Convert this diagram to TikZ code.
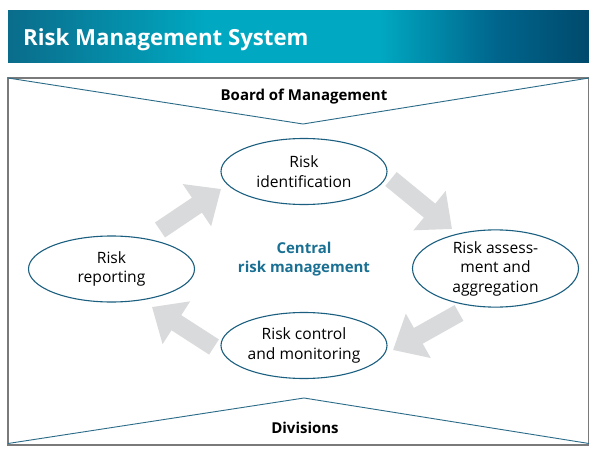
\documentclass[tikz,border=0pt]{standalone}
\usepackage{fontspec}
\setmainfont{Open Sans}
\usetikzlibrary{shapes.geometric,arrows.meta}
\definecolor{bandA}{HTML}{0A6C8B}
\definecolor{bandB}{HTML}{00A8C1}
\definecolor{bandC}{HTML}{00658C}
\definecolor{bandD}{HTML}{004A6C}
\definecolor{ringcol}{HTML}{1B5F80}
\definecolor{vline}{HTML}{2A6B88}
\definecolor{centcol}{HTML}{1A7092}
\definecolor{arrowgray}{HTML}{D9DADB}
\definecolor{framegray}{HTML}{7A7A7A}
\pgfdeclarehorizontalshading{bannershade}{100bp}{color(0bp)=(bandA); color(25bp)=(bandA); color(42bp)=(bandB); color(57bp)=(bandB); color(67bp)=(bandC); color(75bp)=(bandD); color(100bp)=(bandD)}
\tikzset{
  stage/.style={ellipse, draw=ringcol, line width=1.1pt, minimum width=166pt, minimum height=66pt, inner sep=0pt, align=center, font=\fontsize{15.6}{19.5}\selectfont, text=black},
  blockarrow/.style={draw=arrowgray, line width=18pt, line cap=butt, -{Triangle[length=29pt,width=49pt]}},
  vedge/.style={draw=vline, line width=0.9pt},
  lbl/.style={font=\bfseries\fontsize{15}{17}\selectfont, text=black, inner sep=0pt}
}
\begin{document}
\begin{tikzpicture}[x=1pt,y=-1pt]
\useasboundingbox (0,0) rectangle (589,452);
\fill[white] (0,0) rectangle (589,452);
% banner
\shade[shading=bannershade] (8,11) rectangle (589,62.5);
\node[anchor=base west, text=white, font=\bfseries\fontsize{22.2}{25}\selectfont, inner sep=0pt] (title) at (23,45.5) {Risk Management System};
% frame
\draw[framegray, line width=1.3pt] (8,78) rectangle (588.5,445);
\coordinate (tl) at (8,78);
\coordinate (tv) at (303,124);
\coordinate (tr) at (589,78);
\coordinate (bl) at (8,443.5);
\coordinate (bv) at (304,398);
\coordinate (br) at (589,443.5);
\draw[vedge] (tl) -- (tv) -- (tr);
\draw[vedge] (bl) -- (bv) -- (br);
\node[lbl] (board) at (304,97) {Board of Management};
\node[lbl] (div) at (305,428) {Divisions};
% stages
\node[stage] (ident) at (304,171.5) {Risk\\identification};
\node[stage] (assess) at (495.5,268.5) {Risk assess-\\ment and\\aggregation};
\node[stage] (control) at (304,345.5) {Risk control\\and monitoring};
\node[stage] (report) at (111.5,269) {Risk\\reporting};
\node[font=\bfseries\fontsize{15}{18.5}\selectfont, text=centcol, align=center, inner sep=0pt] (central) at (304,259) {Central\\risk management};
% block arrows
\coordinate (a1s) at (160,230);
\coordinate (a1e) at (221,189);
\coordinate (a2s) at (391,179);
\coordinate (a2e) at (452,229);
\coordinate (a3s) at (459,313);
\coordinate (a3e) at (393,350);
\coordinate (a4s) at (214,347);
\coordinate (a4e) at (152,307);
\draw[blockarrow] (a1s) -- (a1e);
\draw[blockarrow] (a2s) -- (a2e);
\draw[blockarrow] (a3s) -- (a3e);
\draw[blockarrow] (a4s) -- (a4e);
\end{tikzpicture}
\end{document}
